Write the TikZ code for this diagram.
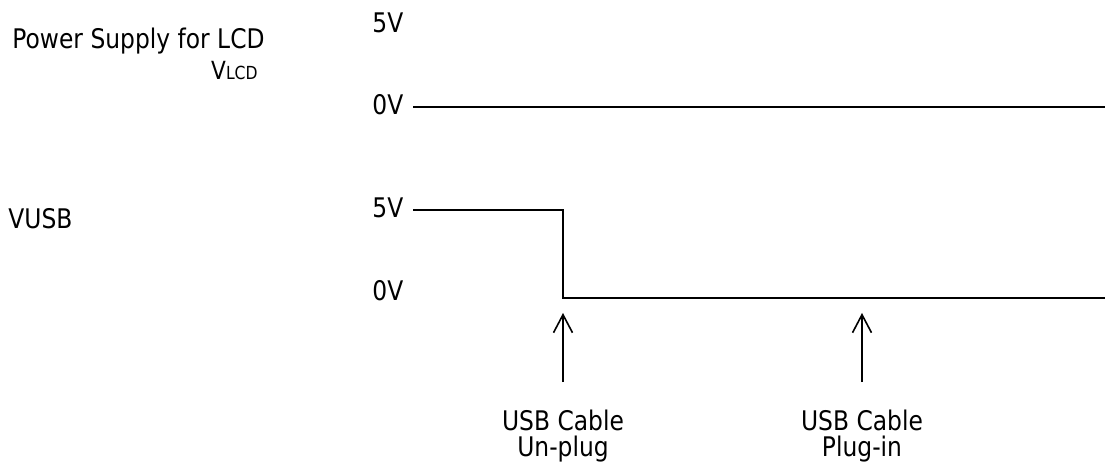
\documentclass[tikz,border=0pt]{standalone}
\usepackage{fontspec}
\setmainfont{DejaVu Sans}[FakeStretch=0.866]
\usetikzlibrary{arrows.meta}
\begin{document}
\begin{tikzpicture}[x=0.5pt,y=-0.5pt,
  every node/.style={inner sep=0pt,font=\fontsize{13.5}{15}\selectfont},
  signal/.style={line width=1pt},
  event/.style={line width=0.8pt,-{Straight Barb[length=9pt,width=9.5pt]}}]
  \useasboundingbox (0,0) rectangle (1105,465);
  % signal names
  \node[anchor=base west] (psu)  at (12,49)  {Power Supply for LCD};
  \node[anchor=base east] (vlcd) at (258,80)
    {{\fontsize{12.5}{14}\selectfont V}{\fontsize{9}{11}\selectfont LCD}};
  \node[anchor=base west] (vusb) at (8,228)  {VUSB};
  % levels
  \node[anchor=base west] (hiA) at (372,33)  {5V};
  \node[anchor=base west] (loA) at (372,115) {0V};
  \node[anchor=base west] (hiB) at (372,218) {5V};
  \node[anchor=base west] (loB) at (372,300) {0V};
  % waveforms
  \coordinate (lcdS) at (413,107);
  \coordinate (lcdE) at (1105,107);
  \coordinate (usbS) at (413,210);
  \coordinate (usbF) at (563,210);
  \coordinate (usbL) at (563,298);
  \coordinate (usbE) at (1105,298);
  \draw[signal] (lcdS) -- (lcdE);
  \draw[signal] (usbS) -- (usbF) -- (usbL) -- (usbE);
  % events
  \node[anchor=base] (cableA) at (563,430) {USB Cable};
  \node[anchor=base] (unplug) at (563,457) {Un-plug};
  \node[anchor=base] (cableB) at (862,430) {USB Cable};
  \node[anchor=base] (plugin) at (862,457) {Plug-in};
  \coordinate (tailA) at (563,382);
  \coordinate (tipA)  at (563,313);
  \coordinate (tailB) at (862,382);
  \coordinate (tipB)  at (862,313);
  \draw[event] (tailA) -- (tipA);
  \draw[event] (tailB) -- (tipB);
\end{tikzpicture}
\end{document}
